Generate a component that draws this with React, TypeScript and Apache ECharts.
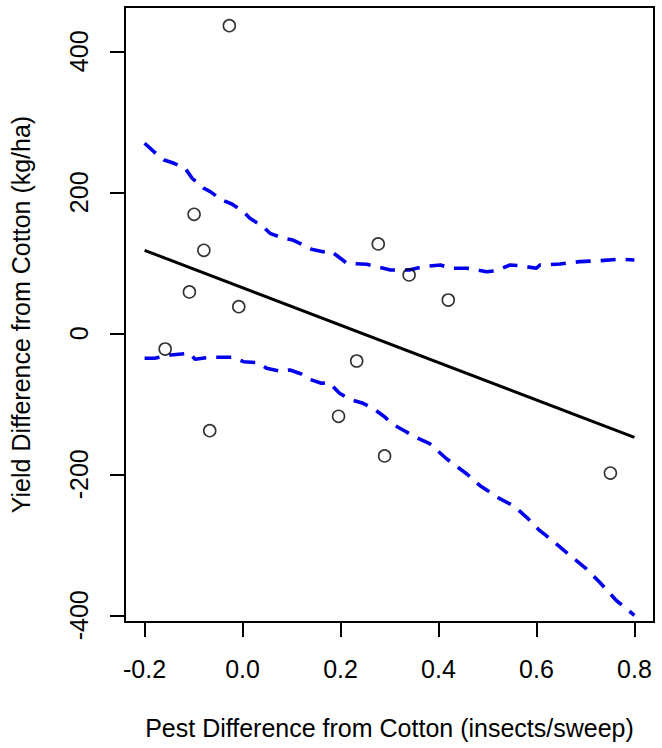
import React, { useEffect, useRef } from "react";
import * as echarts from "echarts";

const pestDiff = [-0.027, -0.099, -0.079, -0.1085, -0.0077, -0.158, -0.067, 0.277, 0.34, 0.42, 0.233, 0.196, 0.29, 0.751];
const yieldDiff = [436.3, 168.8, 117.7, 58.6, 37.7, -22.3, -138.2, 126.7, 82.7, 47.2, -39.3, -117.7, -174, -198.2];

const fitX = [-0.2, 0.8];
const fitY = [117.7, -147.5];

const upperX = [-0.2, -0.181, -0.16, -0.14, -0.117, -0.103, -0.079, -0.066, -0.042, -0.022, 0.002, 0.015, 0.042, 0.056, 0.083, 0.103, 0.124, 0.141, 0.164, 0.178, 0.191, 0.213, 0.254, 0.302, 0.34, 0.37, 0.404, 0.424, 0.458, 0.498, 0.519, 0.546, 0.566, 0.6, 0.607, 0.648, 0.688, 0.729, 0.77, 0.8];
const upperY = [269.5, 257.6, 245.8, 241.1, 234, 219.9, 205.7, 200.9, 189.1, 183.4, 172.5, 163.1, 151.2, 141.8, 134.8, 132.3, 125.2, 119.1, 115.7, 117.2, 111.1, 99.3, 97.9, 89.8, 89.8, 94.5, 96.9, 92.2, 92.2, 87.4, 88.8, 96.9, 95.9, 92.2, 96.9, 98.3, 101.6, 103, 105, 104];

const lowerX = [-0.2, -0.18, -0.147, -0.107, -0.097, -0.066, -0.018, 0.002, 0.033, 0.049, 0.08, 0.097, 0.12, 0.137, 0.161, 0.177, 0.198, 0.219, 0.246, 0.266, 0.29, 0.303, 0.334, 0.351, 0.381, 0.417, 0.458, 0.485, 0.526, 0.553, 0.58, 0.607, 0.62, 0.661, 0.702, 0.729, 0.763, 0.8];
const lowerY = [-35.5, -35.5, -30.8, -28.4, -36.9, -34, -34, -40.3, -41.7, -49.6, -54.4, -52, -57.7, -65.2, -70.9, -70, -85.1, -93.6, -99.3, -106.4, -118.3, -127.7, -139.6, -146.7, -156, -178.3, -199.6, -216.2, -235, -244.5, -261, -280, -287, -310.6, -334.3, -353, -379, -400];

const xTicks = [-0.2, 0.0, 0.2, 0.4, 0.6, 0.8];
const yTicks = [-400, -200, 0, 200, 400];

const xTitle = "Pest Difference from Cotton (insects/sweep)";
const yTitle = "Yield Difference from Cotton (kg/ha)";

const zip = (a: number[], b: number[]) => a.map((v, i) => [v, b[i]]);

export default function App() {
  const ref = useRef<HTMLDivElement>(null);
  useEffect(() => {
    if (!ref.current) return;
    const chart = echarts.init(ref.current, null, { renderer: "svg" });
    const font = "'Liberation Sans', Arial, Helvetica, sans-serif";
    const fs = 25;
    const band = { color: "#0000ee", width: 3.6, type: [15, 10], cap: "butt" };
    chart.setOption({
      animation: false,
      backgroundColor: "#ffffff",
      grid: {
        left: 121,
        top: 7,
        right: 8,
        bottom: 126,
        show: true,
        borderColor: "#000",
        borderWidth: 2,
        backgroundColor: "transparent",
      },
      xAxis: {
        type: "value",
        min: -0.24,
        max: 0.84,
        name: xTitle,
        nameLocation: "middle",
        nameGap: 93,
        nameTextStyle: { fontFamily: font, fontSize: fs, color: "#000" },
        axisLine: { show: false, onZero: false },
        splitLine: { show: false },
        axisTick: {
          show: true,
          inside: false,
          length: 15,
          lineStyle: { color: "#000", width: 2 },
          customValues: xTicks,
        },
        axisLabel: {
          fontFamily: font,
          fontSize: fs,
          color: "#000",
          margin: 34,
          customValues: xTicks,
          formatter: (v: number) => v.toFixed(1),
        },
      },
      yAxis: {
        type: "value",
        min: -409.5,
        max: 462.8,
        name: yTitle,
        nameLocation: "middle",
        nameGap: 92,
        nameRotate: 90,
        nameTextStyle: { fontFamily: font, fontSize: fs, color: "#000" },
        axisLine: { show: false, onZero: false },
        splitLine: { show: false },
        axisTick: {
          show: true,
          inside: false,
          length: 15,
          lineStyle: { color: "#000", width: 2 },
          customValues: yTicks,
        },
        axisLabel: {
          fontFamily: font,
          fontSize: fs,
          color: "#000",
          margin: 34,
          rotate: 90,
          customValues: yTicks,
          formatter: (v: number) => String(v),
        },
      },
      series: [
        {
          type: "line",
          data: zip(upperX, upperY),
          showSymbol: false,
          symbol: "none",
          lineStyle: band,
          z: 2,
        },
        {
          type: "line",
          data: zip(lowerX, lowerY),
          showSymbol: false,
          symbol: "none",
          lineStyle: band,
          z: 2,
        },
        {
          type: "line",
          data: zip(fitX, fitY),
          showSymbol: false,
          symbol: "none",
          lineStyle: { color: "#000", width: 3 },
          z: 3,
        },
        {
          type: "scatter",
          data: zip(pestDiff, yieldDiff),
          symbol: "circle",
          symbolSize: 12,
          itemStyle: { color: "transparent", borderColor: "#000", borderWidth: 1.6 },
          z: 4,
        },
      ],
    });
    return () => chart.dispose();
  }, []);
  return (
    <div
      ref={ref}
      style={{ position: "fixed", left: 0, top: 0, width: 662, height: 748, background: "#fff" }}
    />
  );
}
